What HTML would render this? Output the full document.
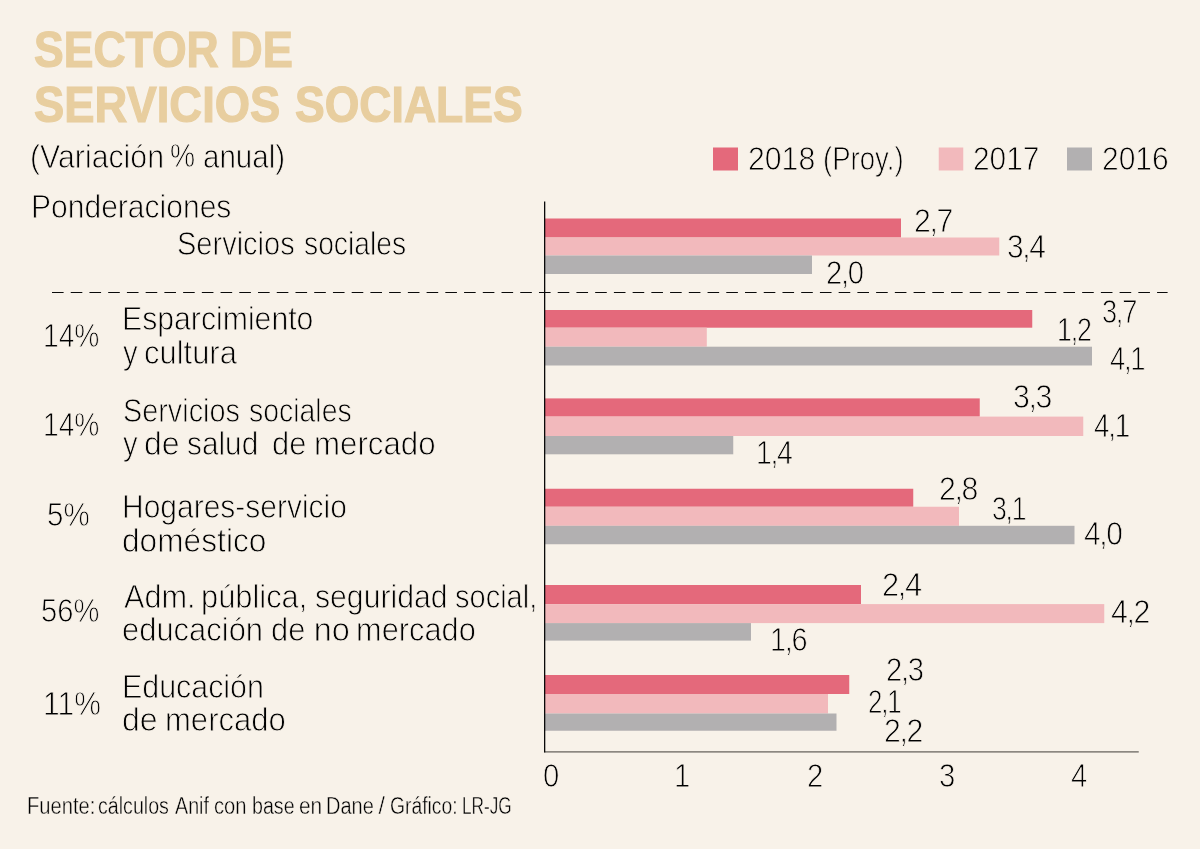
<!DOCTYPE html><html><head><meta charset="utf-8"><title>Sector de servicios sociales</title><style>
html,body{margin:0;padding:0}
body{width:1200px;height:849px;background:#F8F2E9;position:relative;overflow:hidden;font-family:"Liberation Sans",sans-serif;color:#000}
.t{position:absolute;white-space:pre;line-height:1;transform-origin:0 0;margin:0;-webkit-text-stroke:0.85px #F8F2E9}
.t.h{-webkit-text-stroke:1.2px #E8CE9F}.t.f{-webkit-text-stroke-width:0.4px}
.b{position:absolute}.c{margin:0 -1.5px}
.r{background:#E4697B}.p{background:#F2B9BC}.g{background:#B2B0B1}
#w{position:absolute;left:0;top:0;width:1200px;height:849px;will-change:transform}
</style></head><body><div id="w">
<svg class="b" style="left:0;top:0" width="1200" height="849" viewBox="0 0 1200 849">
<rect x="545.00" y="218.50" width="356.00" height="19.00" fill="#E4697B"/>
<rect x="545.00" y="237.50" width="454.25" height="18.00" fill="#F2B9BC"/>
<rect x="545.00" y="255.50" width="267.00" height="18.50" fill="#B2B0B1"/>
<rect x="545.00" y="310.00" width="487.25" height="17.70" fill="#E4697B"/>
<rect x="545.00" y="327.70" width="161.80" height="19.00" fill="#F2B9BC"/>
<rect x="545.00" y="346.70" width="547.00" height="18.80" fill="#B2B0B1"/>
<rect x="545.00" y="398.40" width="434.75" height="18.20" fill="#E4697B"/>
<rect x="545.00" y="416.60" width="538.25" height="19.40" fill="#F2B9BC"/>
<rect x="545.00" y="436.00" width="188.25" height="18.30" fill="#B2B0B1"/>
<rect x="545.00" y="488.75" width="368.25" height="18.00" fill="#E4697B"/>
<rect x="545.00" y="506.75" width="414.00" height="19.05" fill="#F2B9BC"/>
<rect x="545.00" y="525.80" width="529.50" height="18.45" fill="#B2B0B1"/>
<rect x="545.00" y="585.00" width="316.00" height="19.10" fill="#E4697B"/>
<rect x="545.00" y="604.10" width="559.25" height="19.00" fill="#F2B9BC"/>
<rect x="545.00" y="623.10" width="206.00" height="17.50" fill="#B2B0B1"/>
<rect x="545.00" y="675.00" width="304.25" height="19.00" fill="#E4697B"/>
<rect x="545.00" y="694.00" width="283.00" height="19.50" fill="#F2B9BC"/>
<rect x="545.00" y="713.50" width="291.50" height="17.25" fill="#B2B0B1"/>
<rect x="713.00" y="147.5" width="25.00" height="23" fill="#E4697B"/>
<rect x="938.75" y="147.5" width="24.50" height="23" fill="#F2B9BC"/>
<rect x="1067.00" y="147.5" width="25.00" height="23" fill="#B2B0B1"/>
<rect x="544" y="751" width="594.75" height="1.7" fill="#8c8881"/>
<rect x="544" y="201.5" width="1.3" height="550.9" fill="#0a0a0a"/>
<line x1="52" y1="292.5" x2="1167.6" y2="292.5" stroke="#0a0a0a" stroke-width="1.2" stroke-dasharray="11.6 7.13"/>
</svg>
<div class="t h" style="left:34.30px;top:24.55px;font-size:50.50px;transform:scaleX(0.8815);font-weight:bold;color:#E8CE9F">SECTOR</div>
<div class="t h" style="left:230.27px;top:24.55px;font-size:50.50px;transform:scaleX(0.8954);font-weight:bold;color:#E8CE9F">DE</div>
<div class="t h" style="left:34.29px;top:79.55px;font-size:50.50px;transform:scaleX(0.8986);font-weight:bold;color:#E8CE9F">SERVICIOS</div>
<div class="t h" style="left:294.90px;top:79.55px;font-size:50.50px;transform:scaleX(0.8819);font-weight:bold;color:#E8CE9F">SOCIALES</div>
<div class="t" style="left:30.16px;top:141.05px;font-size:32.50px;transform:scaleX(0.9309)">(Variación</div>
<div class="t" style="left:169.94px;top:140.05px;font-size:32.50px;transform:scaleX(0.8673)">%</div>
<div class="t" style="left:202.90px;top:141.05px;font-size:32.50px;transform:scaleX(0.9082)">anual)</div>
<div class="t" style="left:30.98px;top:191.05px;font-size:32.50px;transform:scaleX(0.9242)">Ponderaciones</div>
<div class="t" style="left:177.42px;top:228.05px;font-size:32.50px;transform:scaleX(0.8924)">Servicios</div>
<div class="t" style="left:304.13px;top:228.05px;font-size:32.50px;transform:scaleX(0.8702)">sociales</div>
<div class="t" style="left:748.16px;top:143.05px;font-size:32.50px;transform:scaleX(0.9299)">2018</div>
<div class="t" style="left:822.53px;top:143.05px;font-size:32.50px;transform:scaleX(0.8472)">(Proy.)</div>
<div class="t" style="left:973.17px;top:143.05px;font-size:32.50px;transform:scaleX(0.9191)">2017</div>
<div class="t" style="left:1101.92px;top:143.05px;font-size:32.50px;transform:scaleX(0.9227)">2016</div>
<div class="t" style="left:42.81px;top:320.05px;font-size:32.50px;transform:scaleX(0.8677)">14%</div>
<div class="t" style="left:122.21px;top:303.05px;font-size:32.50px;transform:scaleX(0.9296)">Esparcimiento</div>
<div class="t" style="left:122.67px;top:337.05px;font-size:32.50px;transform:scaleX(0.9015)">y</div>
<div class="t" style="left:144.11px;top:337.05px;font-size:32.50px;transform:scaleX(0.9519)">cultura</div>
<div class="t" style="left:42.81px;top:409.05px;font-size:32.50px;transform:scaleX(0.8677)">14%</div>
<div class="t" style="left:123.17px;top:395.05px;font-size:32.50px;transform:scaleX(0.8867)">Servicios</div>
<div class="t" style="left:249.13px;top:395.05px;font-size:32.50px;transform:scaleX(0.8745)">sociales</div>
<div class="t" style="left:122.67px;top:428.05px;font-size:32.50px;transform:scaleX(0.9015)">y</div>
<div class="t" style="left:143.57px;top:428.05px;font-size:32.50px;transform:scaleX(0.9860)">de</div>
<div class="t" style="left:187.11px;top:428.05px;font-size:32.50px;transform:scaleX(0.9168)">salud</div>
<div class="t" style="left:272.36px;top:428.05px;font-size:32.50px;transform:scaleX(0.9490)">de</div>
<div class="t" style="left:313.87px;top:428.05px;font-size:32.50px;transform:scaleX(0.9614)">mercado</div>
<div class="t" style="left:46.65px;top:499.05px;font-size:32.50px;transform:scaleX(0.9078)">5%</div>
<div class="t" style="left:122.23px;top:491.05px;font-size:32.50px;transform:scaleX(0.9223)">Hogares-servicio</div>
<div class="t" style="left:122.34px;top:525.05px;font-size:32.50px;transform:scaleX(0.9747)">doméstico</div>
<div class="t" style="left:41.16px;top:595.05px;font-size:32.50px;transform:scaleX(0.8973)">56%</div>
<div class="t" style="left:124.08px;top:581.05px;font-size:32.50px;transform:scaleX(0.9441)">Adm.</div>
<div class="t" style="left:201.40px;top:581.05px;font-size:32.50px;transform:scaleX(0.9491)">pública,</div>
<div class="t" style="left:314.60px;top:581.05px;font-size:32.50px;transform:scaleX(0.9283)">seguridad</div>
<div class="t" style="left:455.37px;top:581.05px;font-size:32.50px;transform:scaleX(0.8925)">social,</div>
<div class="t" style="left:122.36px;top:614.05px;font-size:32.50px;transform:scaleX(0.9520)">educación</div>
<div class="t" style="left:271.11px;top:614.05px;font-size:32.50px;transform:scaleX(0.9490)">de</div>
<div class="t" style="left:313.71px;top:614.05px;font-size:32.50px;transform:scaleX(1.0000)">no</div>
<div class="t" style="left:356.40px;top:614.05px;font-size:32.50px;transform:scaleX(0.9472)">mercado</div>
<div class="t" style="left:42.70px;top:688.05px;font-size:32.50px;transform:scaleX(0.9239)">11%</div>
<div class="t" style="left:122.20px;top:671.05px;font-size:32.50px;transform:scaleX(0.9351)">Educación</div>
<div class="t" style="left:122.32px;top:704.05px;font-size:32.50px;transform:scaleX(0.9860)">de</div>
<div class="t" style="left:164.63px;top:704.05px;font-size:32.50px;transform:scaleX(0.9553)">mercado</div>
<div class="t f" style="left:27.32px;top:794.80px;font-size:23.00px;transform:scaleX(0.8769)">Fuente:</div>
<div class="t f" style="left:98.29px;top:794.80px;font-size:23.00px;transform:scaleX(0.8534)">cálculos</div>
<div class="t f" style="left:174.70px;top:794.80px;font-size:23.00px;transform:scaleX(0.8560)">Anif</div>
<div class="t f" style="left:214.17px;top:794.80px;font-size:23.00px;transform:scaleX(0.8779)">con</div>
<div class="t f" style="left:252.07px;top:794.80px;font-size:23.00px;transform:scaleX(0.8546)">base</div>
<div class="t f" style="left:298.65px;top:794.80px;font-size:23.00px;transform:scaleX(0.9074)">en</div>
<div class="t f" style="left:325.74px;top:794.80px;font-size:23.00px;transform:scaleX(0.8688)">Dane</div>
<div class="t f" style="left:378.52px;top:794.80px;font-size:23.00px;transform:scaleX(1.0000)">/</div>
<div class="t f" style="left:390.09px;top:794.80px;font-size:23.00px;transform:scaleX(0.8401)">Gráfico:</div>
<div class="t f" style="left:461.96px;top:794.80px;font-size:23.00px;transform:scaleX(0.7484)">LR-JG</div>
<div class="t" style="left:913.66px;top:205.05px;font-size:32.50px;transform:scaleX(0.9302)">2<span class="c">,</span>7</div>
<div class="t" style="left:1006.89px;top:231.05px;font-size:32.50px;transform:scaleX(0.9192)">3<span class="c">,</span>4</div>
<div class="t" style="left:825.70px;top:257.05px;font-size:32.50px;transform:scaleX(0.8995)">2<span class="c">,</span>0</div>
<div class="t" style="left:1102.48px;top:296.05px;font-size:32.50px;transform:scaleX(0.8368)">3<span class="c">,</span>7</div>
<div class="t" style="left:1056.65px;top:314.05px;font-size:32.50px;transform:scaleX(0.8265)">1<span class="c">,</span>2</div>
<div class="t" style="left:1109.65px;top:343.05px;font-size:32.50px;transform:scaleX(0.8448)">4<span class="c">,</span>1</div>
<div class="t" style="left:1012.88px;top:381.05px;font-size:32.50px;transform:scaleX(0.9309)">3<span class="c">,</span>3</div>
<div class="t" style="left:1094.14px;top:410.05px;font-size:32.50px;transform:scaleX(0.8572)">4<span class="c">,</span>1</div>
<div class="t" style="left:756.05px;top:437.05px;font-size:32.50px;transform:scaleX(0.8730)">1<span class="c">,</span>4</div>
<div class="t" style="left:939.41px;top:473.05px;font-size:32.50px;transform:scaleX(0.9302)">2<span class="c">,</span>8</div>
<div class="t" style="left:991.99px;top:493.05px;font-size:32.50px;transform:scaleX(0.8180)">3<span class="c">,</span>1</div>
<div class="t" style="left:1084.11px;top:518.05px;font-size:32.50px;transform:scaleX(0.9200)">4<span class="c">,</span>0</div>
<div class="t" style="left:882.38px;top:569.05px;font-size:32.50px;transform:scaleX(0.9497)">2<span class="c">,</span>4</div>
<div class="t" style="left:1111.10px;top:596.05px;font-size:32.50px;transform:scaleX(0.9316)">4<span class="c">,</span>2</div>
<div class="t" style="left:770.27px;top:624.05px;font-size:32.50px;transform:scaleX(0.8909)">1<span class="c">,</span>6</div>
<div class="t" style="left:886.21px;top:654.05px;font-size:32.50px;transform:scaleX(0.8984)">2<span class="c">,</span>3</div>
<div class="t" style="left:867.86px;top:686.05px;font-size:32.50px;transform:scaleX(0.7968)">2<span class="c">,</span>1</div>
<div class="t" style="left:883.66px;top:715.05px;font-size:32.50px;transform:scaleX(0.9302)">2<span class="c">,</span>2</div>
<div class="t" style="left:542.77px;top:760.05px;font-size:32.50px;transform:scaleX(0.9000)">0</div>
<div class="t" style="left:674.42px;top:760.05px;font-size:32.50px;transform:scaleX(0.9000)">1</div>
<div class="t" style="left:806.77px;top:760.05px;font-size:32.50px;transform:scaleX(0.9000)">2</div>
<div class="t" style="left:938.63px;top:760.05px;font-size:32.50px;transform:scaleX(0.9000)">3</div>
<div class="t" style="left:1071.13px;top:760.05px;font-size:32.50px;transform:scaleX(0.9000)">4</div>
</div></body></html>
